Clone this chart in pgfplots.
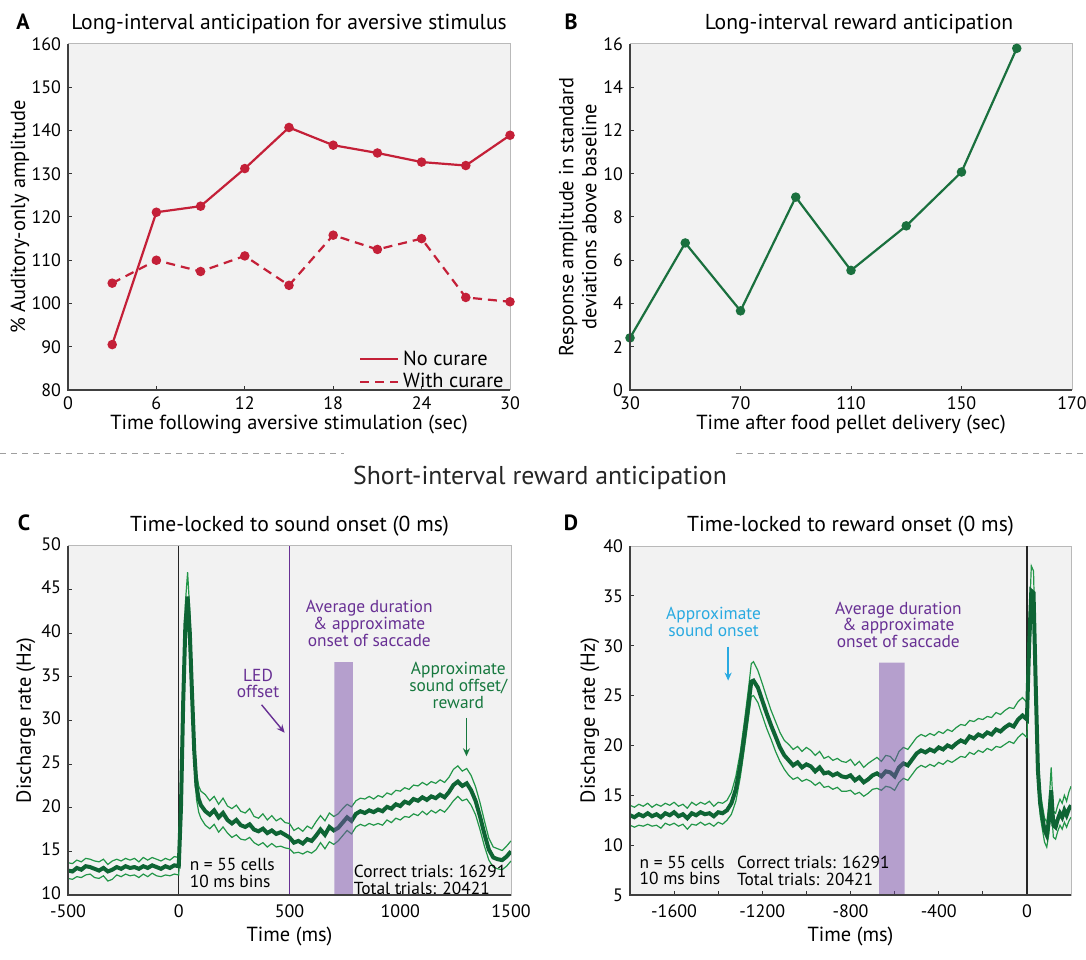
\documentclass[border=0pt]{standalone}
\usepackage{fontspec}
\setmainfont{PT Sans}
\usepackage{pgfplots}
\pgfplotsset{compat=1.18}
\usepackage{pgfplotstable}
\usetikzlibrary{arrows.meta}

\definecolor{bgc}{RGB}{242,242,242}
\definecolor{redc}{RGB}{196,32,56}
\definecolor{grnB}{RGB}{26,112,62}
\definecolor{grnD}{RGB}{14,100,52}
\definecolor{grnL}{RGB}{34,150,72}
\definecolor{grnT}{RGB}{22,120,62}
\definecolor{purT}{RGB}{104,48,148}
\definecolor{barc}{RGB}{122,78,170}
\definecolor{cyanc}{RGB}{41,170,225}

\newcommand\tickfont{\fontsize{9}{10}\selectfont}
\newcommand\labfont{\fontsize{10.2}{11.5}\selectfont}
\newcommand\titfont{\fontsize{10.8}{12}\selectfont}
\newcommand\annfont{\fontsize{8.7}{8.4}\selectfont}

\pgfplotsset{
  panel/.style={
    scale only axis, anchor=south west,
    axis background/.style={fill=bgc},
    axis line style={draw=gray!55, line width=0.5pt},
    tick pos=left, tick align=inside,
    major tick length=2pt, minor tick length=2pt,
    tick style={black!80, line width=0.5pt},
    tick label style={font=\tickfont},
    label style={font=\labfont},
    title style={font=\titfont, at={(0.5,1)}, anchor=center, yshift=4pt},
    /pgf/number format/assume math mode=true,
    /pgf/number format/1000 sep={},
    clip mode=individual,
  },
}
\newcommand\darkedges{\draw[black!75, line width=0.7pt] (rel axis cs:0,1) -- (rel axis cs:0,0) -- (rel axis cs:1,0);}

% Panel C: time (ms), mean, lower, upper
\pgfplotstableread{
t m lo hi
-500 12.8 11.9 13.7
-480 12.7 11.8 13.6
-460 13.1 12.1 14.0
-440 12.9 12.0 13.8
-420 13.3 12.3 14.2
-400 13.2 12.4 14.1
-380 13.0 12.0 13.9
-360 12.8 11.9 13.8
-340 13.1 12.2 14.1
-320 12.7 11.6 13.5
-300 12.9 11.8 13.9
-280 13.2 12.3 14.1
-260 13.0 12.1 13.9
-240 13.3 12.4 14.2
-220 13.1 12.2 14.0
-200 13.2 12.3 14.2
-180 13.0 12.0 13.8
-160 13.3 12.4 14.3
-140 13.1 12.1 14.0
-120 13.4 12.5 14.3
-100 13.2 12.2 14.1
-80 13.0 12.1 13.9
-60 13.3 12.3 14.2
-40 13.1 12.2 14.0
-20 13.4 12.4 14.4
0 13.3 12.3 14.3
10 20.0 18.5 21.5
20 32.0 30.0 34.0
30 41.0 38.5 43.5
40 44.2 41.5 47.0
50 40.0 37.5 42.5
60 33.0 31.0 35.0
70 26.5 25.0 28.0
80 22.5 21.0 24.0
90 21.0 19.5 22.5
100 20.3 18.8 21.9
120 19.6 18.0 21.5
140 19.2 17.6 20.8
160 19.7 18.1 21.3
180 18.9 17.2 20.4
200 19.4 17.8 21.1
220 18.6 17.1 20.2
240 18.2 16.6 19.9
260 18.6 16.9 20.3
280 18.0 16.4 19.6
300 17.8 16.3 19.4
320 18.1 16.6 19.9
340 17.5 16.0 19.0
360 17.3 15.7 18.8
380 17.6 16.0 19.3
400 17.1 15.5 18.6
420 17.4 15.9 19.1
440 17.0 15.5 18.5
460 17.2 15.6 18.8
480 16.9 15.4 18.3
500 16.6 15.3 18.2
520 16.0 14.8 17.4
540 16.2 14.9 17.7
560 15.9 14.7 17.3
580 16.4 15.0 17.9
600 16.2 14.8 17.6
620 16.8 15.2 18.4
640 17.5 16.0 19.1
660 16.9 15.3 18.5
680 17.8 16.1 19.4
700 17.4 15.8 19.0
720 17.7 16.2 19.3
740 18.3 16.8 19.9
760 18.9 17.4 20.4
780 18.5 17.0 20.1
800 19.3 17.8 20.8
820 19.6 18.1 21.1
840 19.4 17.9 21.0
860 19.7 18.2 21.3
880 19.5 18.0 21.0
900 19.8 18.2 21.4
920 19.6 18.0 21.2
940 20.1 18.6 21.7
960 19.9 18.3 21.5
980 20.4 18.8 22.0
1000 20.2 18.6 21.9
1020 20.7 19.0 22.3
1040 20.5 18.9 22.1
1060 21.0 19.3 22.6
1080 20.8 19.1 22.5
1100 21.2 19.6 22.9
1120 20.9 19.2 22.6
1140 21.3 19.7 23.0
1160 21.1 19.4 22.8
1180 21.5 19.8 23.2
1200 21.2 19.5 22.9
1220 21.8 20.1 23.5
1240 22.6 20.8 24.4
1260 23.0 21.3 24.8
1280 22.5 20.8 24.2
1300 22.8 21.0 24.5
1320 22.0 20.3 23.7
1340 20.8 19.2 22.4
1360 19.0 17.5 20.6
1380 17.0 15.6 18.5
1400 15.2 14.0 16.5
1420 14.3 13.2 15.5
1440 14.1 13.0 15.3
1460 14.0 12.9 15.1
1480 14.4 13.3 15.6
1500 15.0 13.9 16.2
}\tabC

% Panel D: time (ms), mean, lower, upper
\pgfplotstableread{
t m lo hi
-1800 13.0 12.0 14.0
-1780 12.8 11.8 13.8
-1760 13.1 12.0 14.1
-1740 12.9 11.9 13.9
-1720 13.2 12.1 14.2
-1700 12.9 11.9 13.8
-1680 13.1 12.0 14.1
-1660 12.8 11.7 13.9
-1640 13.2 12.2 14.2
-1620 13.0 12.0 14.0
-1600 13.3 12.2 14.3
-1580 12.9 11.9 13.9
-1560 13.1 12.1 14.1
-1540 12.7 11.6 13.7
-1520 13.2 12.1 14.3
-1500 13.0 12.0 14.0
-1480 13.3 12.3 14.3
-1460 13.1 12.0 14.1
-1440 13.2 12.2 14.4
-1420 12.9 11.9 13.9
-1400 13.3 12.3 14.3
-1380 13.2 12.1 14.2
-1360 13.5 12.5 14.5
-1340 14.2 13.1 15.3
-1320 15.6 14.4 16.9
-1300 18.0 16.8 19.3
-1280 21.2 19.9 22.6
-1260 24.6 23.2 26.2
-1250 26.4 24.9 28.2
-1240 26.5 25.0 28.4
-1220 25.8 24.3 27.5
-1200 24.5 23.0 26.2
-1180 23.2 21.7 24.8
-1160 22.0 20.6 23.5
-1140 20.9 19.4 22.4
-1120 19.8 18.4 21.3
-1100 19.0 17.6 20.5
-1080 18.5 17.0 20.1
-1060 18.0 16.6 19.6
-1040 18.3 16.8 19.9
-1020 17.8 16.4 19.4
-1000 18.1 16.6 19.8
-980 17.9 16.4 19.5
-960 17.4 16.0 19.0
-940 17.8 16.3 19.4
-920 17.2 15.8 18.7
-900 17.3 15.9 18.9
-880 17.0 15.6 18.5
-860 17.2 15.8 18.7
-840 16.9 15.4 18.4
-820 16.8 15.4 18.3
-800 17.0 15.5 18.6
-780 16.5 15.1 18.0
-760 16.8 15.3 18.4
-740 16.3 14.9 17.8
-720 16.6 15.2 18.2
-700 17.0 15.6 18.5
-680 17.2 15.7 18.8
-660 16.9 15.5 18.4
-640 17.4 15.9 19.0
-620 17.3 15.8 18.9
-600 16.9 15.5 18.4
-580 17.8 16.3 19.4
-560 18.2 16.7 19.8
-540 18.0 16.5 19.6
-520 18.6 17.1 20.2
-500 19.2 17.7 20.8
-480 19.5 18.0 21.1
-460 19.3 17.8 20.9
-440 19.6 18.1 21.2
-420 19.4 17.9 21.0
-400 19.8 18.3 21.4
-380 19.6 18.1 21.2
-360 20.0 18.5 21.6
-340 19.8 18.3 21.4
-320 20.2 18.6 21.8
-300 20.5 18.9 22.1
-280 20.3 18.8 22.0
-260 20.9 19.3 22.5
-240 20.7 19.1 22.4
-220 21.1 19.5 22.7
-200 20.9 19.3 22.6
-180 21.3 19.7 22.9
-160 21.1 19.5 22.8
-140 21.6 19.9 23.3
-120 21.4 19.8 23.1
-100 21.8 20.1 23.5
-80 22.1 20.4 23.8
-60 21.9 20.2 23.7
-40 22.6 20.8 24.4
-20 23.0 21.2 24.8
0 22.6 20.8 24.3
10 30.0 28.0 32.0
20 35.5 33.5 38.0
30 35.3 33.0 37.5
40 26.0 24.0 28.0
50 17.5 16.0 19.0
60 14.2 13.0 15.5
70 12.8 11.6 14.0
80 11.5 10.3 12.7
90 11.0 9.8 12.3
100 12.5 11.2 14.0
110 15.5 14.0 17.8
120 12.0 10.8 13.4
130 11.8 10.6 13.2
140 12.6 11.4 14.0
150 13.2 12.0 14.6
160 12.8 11.6 14.2
170 13.5 12.3 15.0
180 13.0 11.8 14.4
190 13.6 12.4 15.3
200 14.0 12.8 15.9
}\tabD

\begin{document}
\begin{tikzpicture}
\path[use as bounding box] (0,0) rectangle (543pt,479.5pt);

% ---------- A ----------
\begin{axis}[panel, at={(34pt,284.5pt)}, width=221pt, height=173pt,
  xmin=0, xmax=30, ymin=80, ymax=160,
  xtick={0,6,...,30}, ytick={80,90,...,160},
  title={Long-interval anticipation for aversive stimulus},
  xlabel={Time following aversive stimulation (sec)},
  ylabel={\% Auditory-only amplitude},
  xlabel style={at={(axis description cs:0.5,-0.1)}, anchor=center},
  ylabel style={at={(axis description cs:-0.109,0.5)}, anchor=center},
  legend style={at={(1,-0.02)}, anchor=south east, draw=none, fill=none,
    font=\labfont, row sep=-1.5pt, inner sep=1pt},
  legend cell align=left,
  legend image code/.code={\draw[#1, mark=none] (0pt,0pt) -- (19pt,0pt);},
]
\addplot[redc, line width=1.1pt, mark=*, mark size=1.8pt] coordinates {
  (3,90.5) (6,121.1) (9,122.5) (12,131.2) (15,140.7)
  (18,136.6) (21,134.8) (24,132.7) (27,131.9) (30,138.9)};
\addlegendentry{No curare}
\addplot[redc, line width=1.1pt, dash pattern=on 4.5pt off 3pt, mark=*, mark size=1.8pt,
  mark options={solid}] coordinates {
  (3,104.7) (6,110.0) (9,107.4) (12,111.0) (15,104.2)
  (18,115.8) (21,112.5) (24,115.0) (27,101.4) (30,100.4)};
\addlegendentry{With curare}
\darkedges
\end{axis}

% ---------- B ----------
\begin{axis}[panel, at={(315pt,284.5pt)}, width=221pt, height=173pt,
  xmin=30, xmax=190, ymin=0, ymax=16,
  xtick={30,70,110,150,190}, xticklabels={30,70,110,150,170},
  ytick={0,2,...,16},
  title={Long-interval reward anticipation},
  title style={xshift=4pt},
  xlabel={Time after food pellet delivery (sec)},
  ylabel={Response amplitude in standard\\deviations above baseline},
  xlabel style={at={(axis description cs:0.5,-0.1)}, anchor=center},
  ylabel style={at={(axis description cs:-0.118,0.5)}, anchor=center, align=center},
]
\addplot[grnB, line width=1.1pt, mark=*, mark size=1.8pt] coordinates {
  (30,2.41) (50,6.80) (70,3.66) (90,8.92) (110,5.53)
  (130,7.59) (150,10.08) (170,15.8)};
\darkedges
\end{axis}

% ---------- separator ----------
\draw[gray!75, line width=0.5pt, dash pattern=on 3pt off 2.5pt] (0,252.5pt) -- (172pt,252.5pt);
\draw[gray!75, line width=0.5pt, dash pattern=on 3pt off 2.5pt] (368pt,252.5pt) -- (543pt,252.5pt);
\node[font=\fontsize{12.9}{14}\selectfont, text=black!85] at (270pt,240.5pt) {Short-interval reward anticipation};

% ---------- C ----------
\begin{axis}[panel, at={(34pt,32pt)}, width=221.5pt, height=174.5pt,
  xmin=-500, xmax=1500, ymin=10, ymax=50,
  xtick={-500,0,...,1500}, ytick={10,15,...,50},
  xticklabel style={yshift=-1.5pt},
  yticklabel style={yshift=1pt},
  title={Time-locked to sound onset (0 ms)},
  xlabel={Time (ms)}, ylabel={Discharge rate (Hz)},
  xlabel style={at={(axis description cs:0.5,-0.118)}, anchor=center},
  ylabel style={at={(axis description cs:-0.095,0.5)}, anchor=center},
]
\addplot[black!85, line width=0.6pt] coordinates {(0,10) (0,50)};
\addplot[purT, line width=0.6pt] coordinates {(500,10) (500,50)};
\addplot[grnL, line width=0.6pt] table[x=t, y=lo] {\tabC};
\addplot[grnL, line width=0.6pt] table[x=t, y=hi] {\tabC};
\addplot[grnD, line width=2pt] table[x=t, y=m] {\tabC};
\addplot[draw=none, fill=barc, fill opacity=0.5] coordinates {(703,10) (703,36.7) (786,36.7) (786,10)} \closedcycle;
\node[font=\annfont, text=purT, align=center] at (axis cs:358,34.25) {LED\\offset};
\draw[purT, line width=0.7pt, -{Stealth[length=4pt,width=3.5pt]}] (axis cs:374,31.8) -- (axis cs:478,28.6);
\node[font=\annfont, text=purT, align=center] at (axis cs:860,41.1) {Average duration\\\& approximate\\onset of saccade};
\node[font=\annfont, text=grnT, align=center] at (axis cs:1262,34.0) {Approximate\\sound offset/\\reward};
\draw[grnT, line width=0.7pt, -{Stealth[length=4pt,width=3.5pt]}] (axis cs:1299,30.3) -- (axis cs:1299,25.9);
\node[font=\annfont, align=left, anchor=west, inner sep=0pt] at (axis cs:48,12.55) {n = 55 cells\\10 ms bins};
\node[font=\annfont, align=left, anchor=west, inner sep=0pt] at (axis cs:789,11.7) {Correct trials: 16291\\Total trials: 20421};
\darkedges
\end{axis}

% ---------- D ----------
\begin{axis}[panel, at={(315pt,32pt)}, width=220.5pt, height=174.5pt,
  xmin=-1800, xmax=200, ymin=5, ymax=40,
  xtick={-1600,-1200,-800,-400,0}, minor xtick={-1400,-1000,-600,-200},
  ytick={5,10,...,40},
  xticklabel style={yshift=-1.5pt},
  title={Time-locked to reward onset (0 ms)},
  xlabel={Time (ms)}, ylabel={Discharge rate (Hz)},
  xlabel style={at={(axis description cs:0.5,-0.118)}, anchor=center},
  ylabel style={at={(axis description cs:-0.091,0.5)}, anchor=center},
]
\addplot[black!85, line width=0.6pt] coordinates {(0,5) (0,40)};
\addplot[grnL, line width=0.6pt] table[x=t, y=lo] {\tabD};
\addplot[grnL, line width=0.6pt] table[x=t, y=hi] {\tabD};
\addplot[grnD, line width=2pt] table[x=t, y=m] {\tabD};
\addplot[draw=none, fill=barc, fill opacity=0.5] coordinates {(-670,5) (-670,28.3) (-555,28.3) (-555,5)} \closedcycle;
\node[font=\annfont, text=cyanc, align=center] at (axis cs:-1421,32.35) {Approximate\\sound onset};
\draw[cyanc, line width=0.7pt, -{Stealth[length=4pt,width=3.5pt]}] (axis cs:-1355,29.9) -- (axis cs:-1355,26.5);
\node[font=\annfont, text=purT, align=center] at (axis cs:-583,32.1) {Average duration\\\& approximate\\onset of saccade};
\node[font=\annfont, align=left, anchor=west, inner sep=0pt] at (axis cs:-1758,7.45) {n = 55 cells\\10 ms bins};
\node[font=\annfont, align=left, anchor=west, inner sep=0pt] at (axis cs:-1316,7.45) {Correct trials: 16291\\Total trials: 20421};
\darkedges
\end{axis}

% panel letters
\node[font=\fontsize{11}{13}\selectfont\bfseries] at (11.5pt,468.5pt) {A};
\node[font=\fontsize{11}{13}\selectfont\bfseries] at (285.5pt,468.5pt) {B};
\node[font=\fontsize{11}{13}\selectfont\bfseries] at (12pt,218pt) {C};
\node[font=\fontsize{11}{13}\selectfont\bfseries] at (285.5pt,218pt) {D};
\end{tikzpicture}
\end{document}
